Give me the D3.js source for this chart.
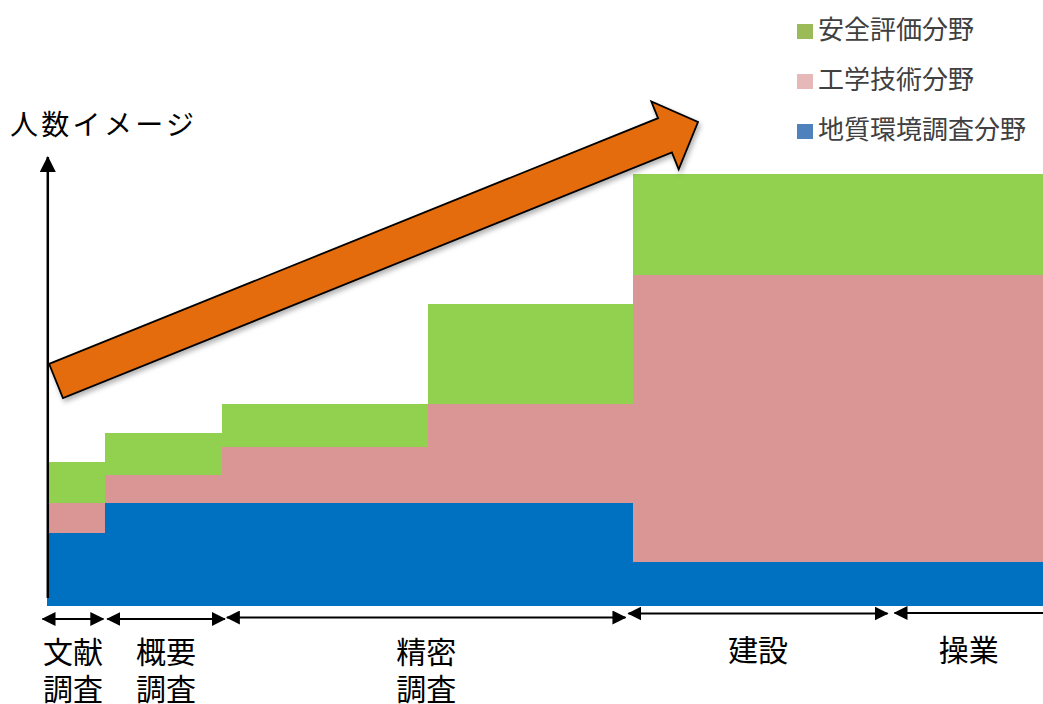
<!DOCTYPE html>
<html>
<head>
<meta charset="utf-8">
<script src="https://cdn.jsdelivr.net/npm/d3@7/dist/d3.min.js"></script>
<style>
  html, body { margin: 0; padding: 0; background: #fff; }
  svg { display: block; font-family: "Noto Sans CJK JP", "Noto Sans", sans-serif; }
</style>
</head>
<body>
<svg id="chart" width="1043" height="704"></svg>
<script>
// Workforce image across the project phases (stacked, step-shaped)
const seriesKeys = ["geo", "eng", "safety"];
const seriesNames = ["地質環境調査分野", "工学技術分野", "安全評価分野"];
const seriesColors = ["#0070c0", "#d99694", "#92d050"];
const legendColors = ["#4f81bd", "#e6b9b8", "#9bbb59"];

// step start positions along the time axis (0–100)
const stepStarts = [0, 5.9, 17.6, 38.3, 58.9, 100];
const geoValues    = [16.9, 23.8, 23.8, 23.8, 10.2, 10.2];
const engValues    = [6.9, 6.5, 13.0, 22.9, 66.4, 66.4];
const safetyValues = [9.5, 9.7, 10.0, 23.1, 23.4, 23.4];

// phase brackets below the chart
const phaseNames   = [["文献", "調査"], ["概要", "調査"], ["精密", "調査"], ["建設"], ["操業"]];
const phaseStart   = [-0.4, 6.1, 18.1, 58.4, 85.1];
const phaseEnd     = [5.7, 17.9, 58.1, 84.4, 100];
const phaseHeadEnd = [true, true, true, true, false];

const yTitle = "人数イメージ";

const svg = d3.select("#chart");

const x = d3.scaleLinear().domain([0, 100]).range([46.5, 1043]);
const y = d3.scaleLinear().domain([0, 100]).range([606, 174]);

const rows = stepStarts.map((s, i) => ({
  t: s, geo: geoValues[i], eng: engValues[i], safety: safetyValues[i]
}));

const stacked = d3.stack().keys(seriesKeys)(rows);

const area = d3.area()
  .curve(d3.curveStepAfter)
  .x(d => x(d.data.t))
  .y0(d => y(d[0]))
  .y1(d => y(d[1]));

svg.append("g")
  .selectAll("path")
  .data(stacked)
  .join("path")
  .attr("d", area)
  .attr("fill", (d, i) => seriesColors[i])
  .attr("shape-rendering", "crispEdges");

// markers
const defs = svg.append("defs");
defs.append("marker")
  .attr("id", "head")
  .attr("viewBox", "0 0 14 14")
  .attr("refX", 13).attr("refY", 7)
  .attr("markerUnits", "userSpaceOnUse")
  .attr("markerWidth", 14).attr("markerHeight", 14)
  .attr("orient", "auto-start-reverse")
  .append("path")
  .attr("d", "M0,0 L14,7 L0,14 Z")
  .attr("fill", "#000");

defs.append("marker")
  .attr("id", "axisHead")
  .attr("viewBox", "0 0 16 16")
  .attr("refX", 15).attr("refY", 8)
  .attr("markerUnits", "userSpaceOnUse")
  .attr("markerWidth", 16).attr("markerHeight", 16)
  .attr("orient", "auto")
  .append("path")
  .attr("d", "M0,0 L16,8 L0,16 Z")
  .attr("fill", "#000");

const shadow = defs.append("filter").attr("id", "shadow")
  .attr("x", "-10%").attr("y", "-10%").attr("width", "130%").attr("height", "140%");
shadow.append("feDropShadow")
  .attr("dx", 2).attr("dy", 3).attr("stdDeviation", 2.5)
  .attr("flood-color", "#000").attr("flood-opacity", 0.3);

// vertical axis with arrow
svg.append("line")
  .attr("x1", 47.8).attr("y1", 598)
  .attr("x2", 47.8).attr("y2", 157)
  .attr("stroke", "#000").attr("stroke-width", 2.5)
  .attr("marker-end", "url(#axisHead)");

svg.append("text")
  .attr("x", 10).attr("y", 123)
  .attr("dominant-baseline", "central")
  .attr("font-size", 28)
  .attr("letter-spacing", 3.3)
  .attr("fill", "#000")
  .text(yTitle);

// growth arrow
(function () {
  const tail = [56, 381], tip = [698, 122];
  const shaftHalf = 18.5, headHalf = 36.6, headLen = 35.6;
  const dx = tip[0] - tail[0], dy = tip[1] - tail[1];
  const len = Math.hypot(dx, dy);
  const u = [dx / len, dy / len], n = [-u[1], u[0]];
  const base = [tip[0] - u[0] * headLen, tip[1] - u[1] * headLen];
  const p = (c, k) => [c[0] + n[0] * k, c[1] + n[1] * k];
  const pts = [p(tail, -shaftHalf), p(base, -shaftHalf), p(base, -headHalf), tip,
               p(base, headHalf), p(base, shaftHalf), p(tail, shaftHalf)];
  svg.append("path")
    .attr("d", d3.line()(pts) + "Z")
    .attr("fill", "#e46c0a")
    .attr("stroke", "#000")
    .attr("stroke-width", 1.8)
    .attr("stroke-linejoin", "miter")
    .attr("filter", "url(#shadow)");
})();

// phase brackets
const bracketY = [619, 619, 617.5, 613.5, 613];
const phases = phaseNames.map((nm, i) => ({
  nm, s: phaseStart[i], e: phaseEnd[i], yy: bracketY[i], headEnd: phaseHeadEnd[i]
}));

svg.append("g").selectAll("line")
  .data(phases)
  .join("line")
  .attr("x1", d => x(d.s)).attr("x2", d => x(d.e))
  .attr("y1", d => d.yy).attr("y2", d => d.yy)
  .attr("stroke", "#000").attr("stroke-width", 2)
  .attr("marker-start", "url(#head)")
  .attr("marker-end", d => d.headEnd ? "url(#head)" : null);

const labelY0 = [650, 650, 650, 648, 648];
const lg = svg.append("g").attr("font-size", 30).attr("fill", "#000").attr("text-anchor", "middle");
phases.forEach((d, i) => {
  const mid = (x(d.s) + x(d.e)) / 2;
  d.nm.forEach((line, j) => {
    lg.append("text")
      .attr("x", mid)
      .attr("y", labelY0[i] + j * 37)
      .attr("dominant-baseline", "central")
      .text(line);
  });
});

// legend
const legendItems = [2, 1, 0];
const leg = svg.append("g");
legendItems.forEach((k, i) => {
  const cy = 27 + i * 50;
  leg.append("rect")
    .attr("x", 797).attr("y", cy - 3)
    .attr("width", 16).attr("height", 15)
    .attr("fill", legendColors[k]);
  leg.append("text")
    .attr("x", 818).attr("y", cy)
    .attr("dominant-baseline", "central")
    .attr("font-size", 26)
    .attr("fill", "#404040")
    .text(seriesNames[k]);
});
</script>
</body>
</html>
